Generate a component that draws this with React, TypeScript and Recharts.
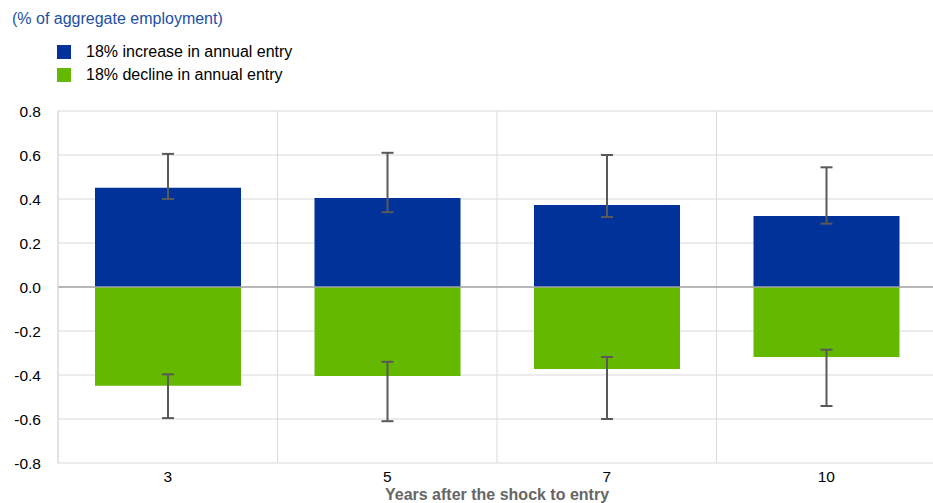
import React from 'react';
import {
  BarChart,
  Bar,
  XAxis,
  YAxis,
  CartesianGrid,
  ReferenceLine,
  ErrorBar,
} from 'recharts';

// Years after the shock
const years = ['3', '5', '7', '10'];

// 18% increase in annual entry: point estimate and confidence band
const increase = [0.451, 0.405, 0.373, 0.323];
const increaseLow = [0.4, 0.34, 0.318, 0.288];
const increaseHigh = [0.605, 0.61, 0.6, 0.544];

// 18% decline in annual entry
const decline = [-0.449, -0.405, -0.373, -0.318];
const declineHigh = [-0.397, -0.34, -0.318, -0.285];
const declineLow = [-0.596, -0.61, -0.6, -0.541];

const yTicks = [-0.8, -0.6, -0.4, -0.2, 0, 0.2, 0.4, 0.6, 0.8];

const BLUE = '#003299';
const GREEN = '#65b800';
const FONT = '"Liberation Sans", Arial, sans-serif';

const data = years.map((year, i) => ({
  year,
  increase: increase[i],
  increaseErr: [increase[i] - increaseLow[i], increaseHigh[i] - increase[i]],
  decline: decline[i],
  declineErr: [decline[i] - declineLow[i], declineHigh[i] - decline[i]],
}));

const legendItems = [
  { label: '18% increase in annual entry', color: BLUE },
  { label: '18% decline in annual entry', color: GREEN },
];

export default function App() {
  return (
    <div style={{ position: 'absolute', left: 0, top: 0, width: 933, height: 503, fontFamily: FONT }}>
      <div style={{ position: 'absolute', left: 12, top: 9, fontSize: 16, lineHeight: '20px', color: '#1d4fa5' }}>
        (% of aggregate employment)
      </div>
      <div style={{ position: 'absolute', left: 57, top: 40 }}>
        {legendItems.map((item) => (
          <div key={item.label} style={{ display: 'flex', alignItems: 'center', height: 23 }}>
            <span style={{ width: 14, height: 14, background: item.color, marginRight: 15 }} />
            <span style={{ fontSize: 16, color: '#000' }}>{item.label}</span>
          </div>
        ))}
      </div>
      <BarChart
        width={933}
        height={503}
        data={data}
        margin={{ top: 111, right: -3, bottom: 0, left: 0 }}
        barSize={146}
        barGap={-146}
      >
        <CartesianGrid
          stroke="#d9d9d9"
          verticalCoordinatesGenerator={({ offset }: any) =>
            years.map((_, i) => offset.left + (i * offset.width) / years.length)
          }
        />
        <XAxis
          dataKey="year"
          axisLine={false}
          tickLine={false}
          height={40}
          tick={{ fontSize: 15.5, fill: '#000', fontFamily: FONT }}
          tickMargin={2}
          label={{
            value: 'Years after the shock to entry',
            position: 'insideBottom',
            offset: 3,
            style: { fontSize: 16, fontWeight: 'bold', fill: '#666', fontFamily: FONT },
          }}
        />
        <YAxis
          domain={[-0.8, 0.8]}
          ticks={yTicks}
          width={58}
          axisLine={{ stroke: '#d9d9d9' }}
          tickLine={false}
          tickMargin={11}
          tickFormatter={(v: number) => v.toFixed(1)}
          tick={{ fontSize: 15.5, fill: '#000', fontFamily: FONT }}
        />
        <Bar dataKey="increase" fill={BLUE} isAnimationActive={false}>
          <ErrorBar dataKey="increaseErr" width={6} stroke="#595959" strokeWidth={2} />
        </Bar>
        <Bar dataKey="decline" fill={GREEN} isAnimationActive={false}>
          <ErrorBar dataKey="declineErr" width={6} stroke="#595959" strokeWidth={2} />
        </Bar>
        <ReferenceLine y={0} stroke="#a6a6a6" strokeWidth={1.5} />
      </BarChart>
    </div>
  );
}
